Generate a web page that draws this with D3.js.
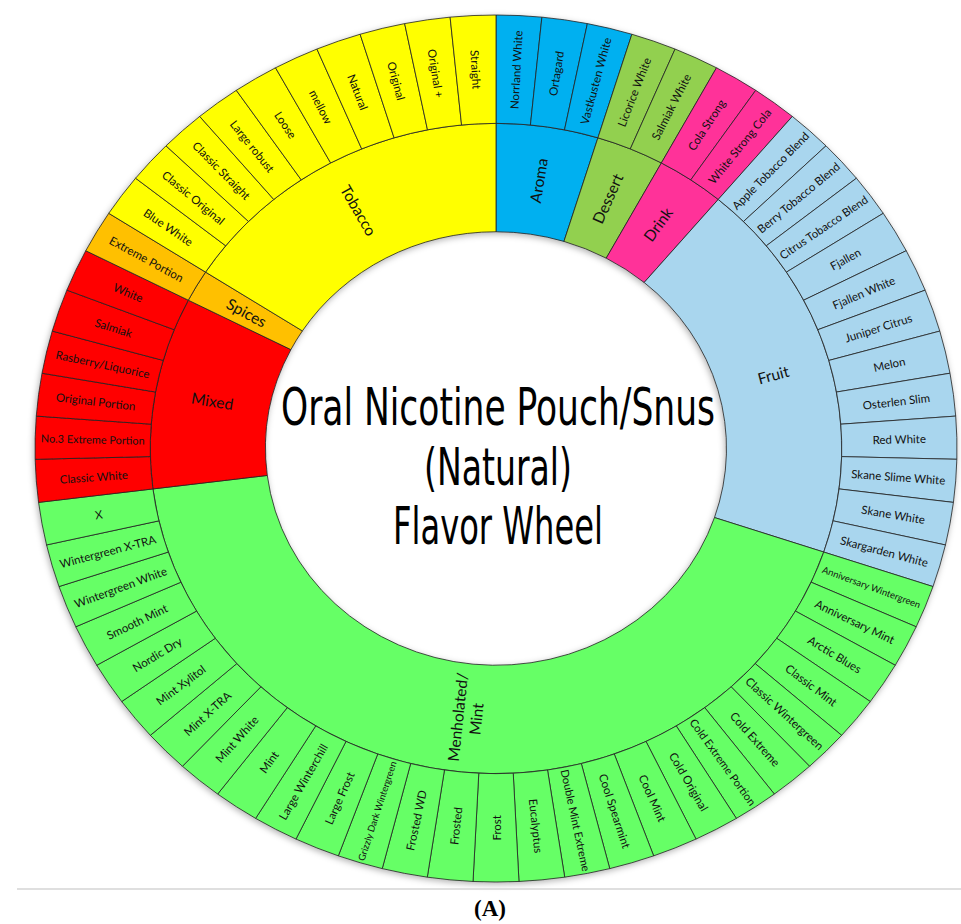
<!doctype html>
<html>
<head>
<meta charset="utf-8">
<style>
  body { margin: 0; background: #fff; }
  svg { display: block; }
  .leaf-label, .cat-label { font-family: Lato, "Open Sans", sans-serif; fill: #111; }
  .title { font-family: "DejaVu Sans Condensed", "DejaVu Sans", sans-serif; fill: #000; }
</style>
<script src="https://d3js.org/d3.v7.min.js"></script>
</head>
<body>
<svg width="961" height="924"></svg>
<script>
// categories in clockwise order from 12 o'clock, and the flavours inside each
var categories = ["Aroma", "Dessert", "Drink", "Fruit", "Menholated/Mint", "Mixed", "Spices", "Tobacco"];
var aroma = ["Norrland White", "Ortagard", "Vastkusten White"];
var dessert = ["Licorice White", "Salmiak White"];
var drink = ["Cola Strong", "White Strong Cola"];
var fruit = ["Apple Tobacco Blend", "Berry Tobacco Blend", "Citrus Tobacco Blend", "Fjallen", "Fjallen White",
             "Juniper Citrus", "Melon", "Osterlen Slim", "Red White", "Skane Slime White", "Skane White", "Skargarden White"];
var mint = ["Anniversary Wintergreen", "Anniversary Mint", "Arctic Blues", "Classic Mint", "Classic Wintergreen",
            "Cold Extreme", "Cold Extreme Portion", "Cold Original", "Cool Mint", "Cool Spearmint", "Double Mint Extreme",
            "Eucalyptus", "Frost", "Frosted", "Frosted WD", "Grizzly Dark Wintergreen", "Large Frost", "Large Winterchill",
            "Mint", "Mint White", "Mint X-TRA", "Mint Xylitol", "Nordic Dry", "Smooth Mint", "Wintergreen White",
            "Wintergreen X-TRA", "X"];
var mixed = ["Classic White", "No.3 Extreme Portion", "Original Portion", "Rasberry/Liquorice", "Salmiak", "White"];
var spices = ["Extreme Portion"];
var tobacco = ["Blue White", "Classic Original", "Classic Straight", "Large robust", "Loose", "mellow",
               "Natural", "Original", "Original +", "Straight"];
var flavors = [aroma, dessert, drink, fruit, mint, mixed, spices, tobacco];
var titleLines = ["Oral Nicotine Pouch/Snus", "(Natural)", "Flavor Wheel"];

var colors = ["#00b0f0", "#92d050", "#ff3399", "#a9d6ee", "#66ff66", "#ff0000", "#ffc000", "#ffff00"];

var svg = d3.select("svg"),
    cx = 496, cy = 448.5,
    R = 433.5,          // vertical radius
    sx = 461 / R;       // the wheel is a little wider than tall

var tree = {name: "root", children: categories.map(function(c, i) {
    return {name: c, color: colors[i], children: flavors[i].map(function(f) { return {name: f, value: 1}; })};
})};

var root = d3.hierarchy(tree).sum(function(d) { return d.value || 0; });
d3.partition().size([2 * Math.PI, 1])(root);

var radius = d3.scaleLinear().domain([1 / 3, 1]).range([R * 0.5, R]);

var arc = d3.arc()
    .startAngle(function(d) { return d.x0; })
    .endAngle(function(d) { return d.x1; })
    .innerRadius(function(d) { return radius(d.y0); })
    .outerRadius(function(d) { return radius(d.y1); });

var defs = svg.append("defs");
defs.append("filter").attr("id", "shadow")
    .attr("x", "-10%").attr("y", "-10%").attr("width", "120%").attr("height", "120%")
  .append("feDropShadow")
    .attr("dx", -1).attr("dy", 2).attr("stdDeviation", 3)
    .attr("flood-color", "#000").attr("flood-opacity", 0.3);

var wheel = svg.append("g")
    .attr("transform", "translate(" + cx + "," + cy + ") scale(" + sx + ",1)")
    .attr("filter", "url(#shadow)");

var nodes = root.descendants().filter(function(d) { return d.depth > 0; });

wheel.selectAll("path")
  .data(nodes)
  .enter().append("path")
    .attr("d", arc)
    .attr("fill", function(d) { return d.depth === 1 ? d.data.color : d.parent.data.color; })
    .attr("stroke", "#222")
    .attr("stroke-width", 0.8)
    .attr("vector-effect", "non-scaling-stroke");

// label position and radial rotation, mapped onto the ellipse
function place(d) {
    var a = (d.x0 + d.x1) / 2,
        r = (radius(d.y0) + radius(d.y1)) / 2,
        x = cx + sx * r * Math.sin(a),
        y = cy - r * Math.cos(a),
        rot = Math.atan2(-Math.cos(a), sx * Math.sin(a)) * 180 / Math.PI;
    if (a >= Math.PI - 1e-6) rot += 180;
    return "translate(" + x + "," + y + ") rotate(" + rot + ")";
}

var labels = svg.append("g");

labels.selectAll(".leaf-label")
  .data(root.leaves())
  .enter().append("text")
    .attr("class", "leaf-label")
    .attr("transform", place)
    .attr("text-anchor", "middle")
    .attr("dominant-baseline", "central")
    .style("font-size", "11.5px")
    .text(function(d) { return d.data.name; })
    .each(function() {
        var w = this.getComputedTextLength(), maxW = 104;
        if (w > maxW) d3.select(this).style("font-size", (11.5 * maxW / w) + "px");
    });

var cats = labels.selectAll(".cat-label")
  .data(root.children)
  .enter().append("text")
    .attr("class", "cat-label")
    .attr("transform", place)
    .attr("text-anchor", "middle")
    .style("font-size", "15.5px");

cats.each(function(d) {
    var parts = d.data.name.indexOf("/") > 0 ? [d.data.name.split("/")[0] + "/", d.data.name.split("/")[1]] : [d.data.name];
    var t = d3.select(this);
    parts.forEach(function(p, i) {
        t.append("tspan")
            .attr("x", 0)
            .attr("dy", i === 0 ? (0.35 - (parts.length - 1) * 0.6) + "em" : "1.2em")
            .text(p);
    });
});

// centre title
var titleWidths = [434, 148, 210];
svg.append("g").selectAll("text")
  .data(titleLines)
  .enter().append("text")
    .attr("class", "title")
    .attr("x", 498)
    .attr("y", function(d, i) { return 425 + i * 59.5; })
    .attr("text-anchor", "middle")
    .attr("textLength", function(d, i) { return titleWidths[i]; })
    .attr("lengthAdjust", "spacingAndGlyphs")
    .style("font-size", "52px")
    .text(function(d) { return d; });

// figure rule and panel letter
svg.append("line")
    .attr("x1", 17).attr("x2", 961).attr("y1", 889).attr("y2", 889)
    .attr("stroke", "#d4d4d4").attr("stroke-width", 1.5);

svg.append("text")
    .attr("x", 490).attr("y", 916)
    .attr("text-anchor", "middle")
    .style("font-family", "'Liberation Serif', 'DejaVu Serif', serif")
    .style("font-weight", "bold")
    .style("font-size", "23px")
    .text("(A)");
</script>
</body>
</html>
